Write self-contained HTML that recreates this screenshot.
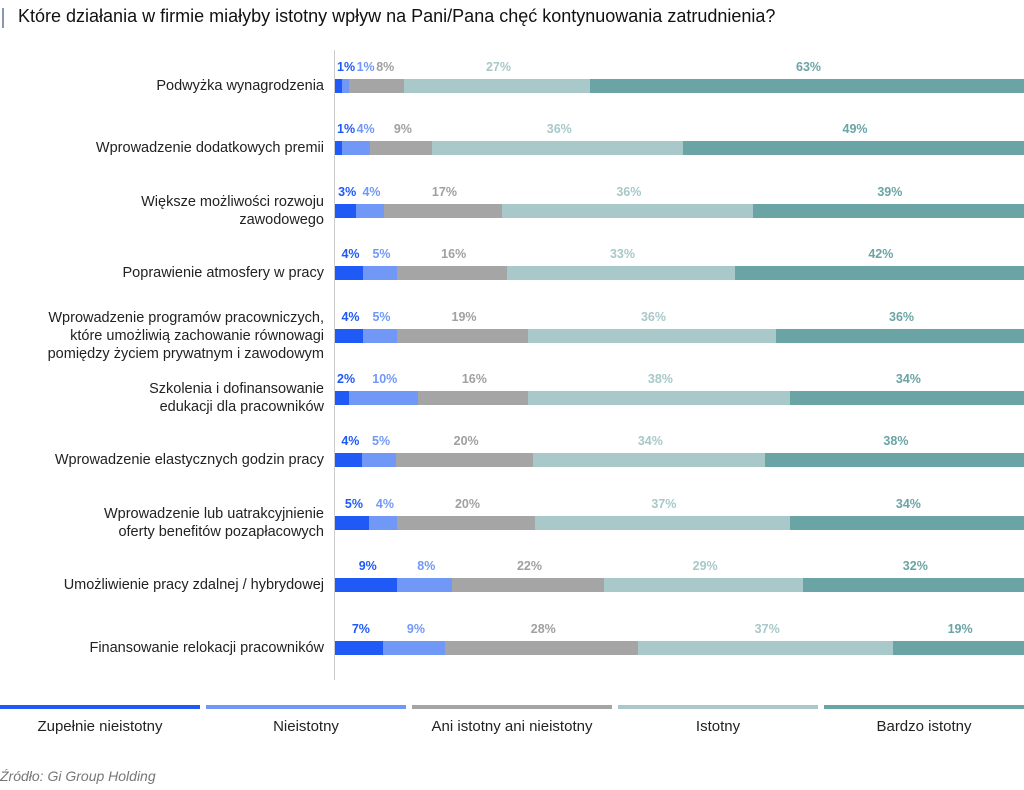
<!DOCTYPE html>
<html><head><meta charset="utf-8"><style>
body{margin:0;width:1024px;height:790px;background:#fff;font-family:"Liberation Sans",sans-serif;position:relative;overflow:hidden;color:#222}
.t{position:absolute;left:18px;top:6px;font-size:18px;color:#111}
.vb{position:absolute;left:2px;top:8px;width:2px;height:20px;background:#8a95b5}
.axis{position:absolute;left:334px;top:50px;width:1px;height:630px;background:#ccc}
.row{position:absolute;left:335px;width:689px;height:14px;display:flex}
.row div{height:14px}
.pl{position:absolute;font-size:12.5px;font-weight:bold;white-space:nowrap}
.lab{position:absolute;right:700px;text-align:right;font-size:14.5px;line-height:18px;color:#222}
.c1{background:#1f5af6}.p1{color:#1f5af6}
.c2{background:#7198f7}.p2{color:#7198f7}
.c3{background:#a5a5a5}.p3{color:#a0a0a0}
.c4{background:#a8c8c9}.p4{color:#a8c8c9}
.c5{background:#6ba4a5}.p5{color:#6ba4a5}
.lg{position:absolute;top:705px;height:4px;width:200px}
.lt{position:absolute;top:718px;width:200px;text-align:center;font-size:15px}
.src{position:absolute;left:0;top:768px;font-size:14px;font-style:italic;color:#777}
</style></head><body>
<div class="vb"></div>
<div class="t">Które działania w firmie miałyby istotny wpływ na Pani/Pana chęć kontynuowania zatrudnienia?</div>
<div class="axis"></div>
<div id="c"></div>
<div class="lg c1" style="left:0"></div><div class="lg c2" style="left:206px"></div><div class="lg c3" style="left:412px"></div><div class="lg c4" style="left:618px"></div><div class="lg c5" style="left:824px"></div>
<div class="lt" style="left:0">Zupełnie nieistotny</div>
<div class="lt" style="left:206px">Nieistotny</div>
<div class="lt" style="left:412px">Ani istotny ani nieistotny</div>
<div class="lt" style="left:618px">Istotny</div>
<div class="lt" style="left:824px">Bardzo istotny</div>
<div class="src">Źródło: Gi Group Holding</div>
<script>
var d=[["Podwyżka wynagrodzenia",[1,1,8,27,63]],
["Wprowadzenie dodatkowych premii",[1,4,9,36,49]],
["Większe możliwości rozwoju<br>zawodowego",[3,4,17,36,39]],
["Poprawienie atmosfery w pracy",[4,5,16,33,42]],
["Wprowadzenie programów pracowniczych,<br>które umożliwią zachowanie równowagi<br>pomiędzy życiem prywatnym i zawodowym",[4,5,19,36,36]],
["Szkolenia i dofinansowanie<br>edukacji dla pracowników",[2,10,16,38,34]],
["Wprowadzenie elastycznych godzin pracy",[4,5,20,34,38]],
["Wprowadzenie lub uatrakcyjnienie<br>oferty benefitów pozapłacowych",[5,4,20,37,34]],
["Umożliwienie pracy zdalnej / hybrydowej",[9,8,22,29,32]],
["Finansowanie relokacji pracowników",[7,9,28,37,19]]];
var h="";
d.forEach(function(r,i){var top=79+i*62.4;var s=0;r[1].forEach(function(v){s+=v});
var lines=r[0].split("<br>").length;
h+='<div class="lab" style="left:0;width:324px;top:'+(top+7-lines*9)+'px">'+r[0]+'</div>';
h+='<div class="row" style="top:'+top+'px">';
var x=335,prev=330;var lab="";
r[1].forEach(function(v,j){var w=v/s*689;h+='<div class="c'+(j+1)+'" style="width:'+w+'px"></div>';
var t=v+'%';var tw=t.length*7.3;var l=Math.max(x+w/2-tw/2,prev+5,337);
lab+='<div class="pl p'+(j+1)+'" style="left:'+l+'px;top:'+(top-19)+'px">'+t+'</div>';prev=l+tw;x+=w;});
h+='</div>'+lab;});
document.getElementById("c").innerHTML=h;
</script>
</body></html>
